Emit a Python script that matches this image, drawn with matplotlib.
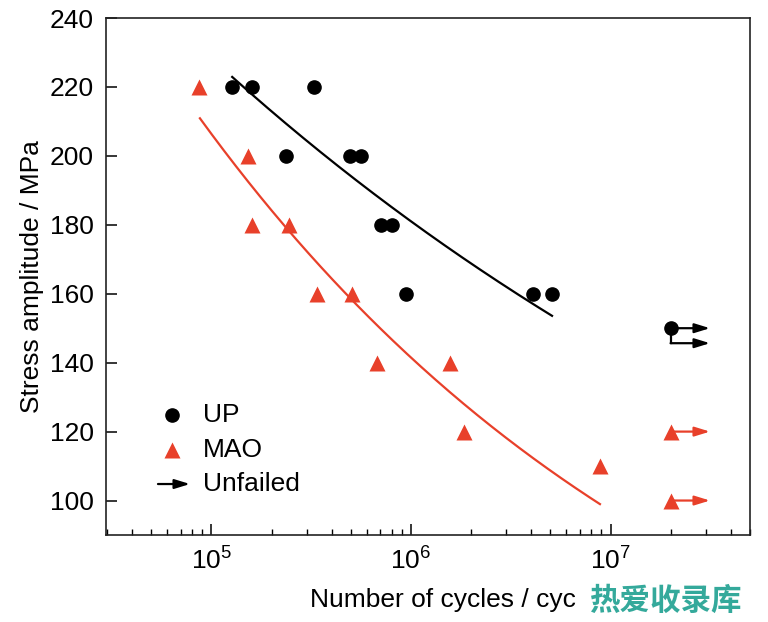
import numpy as np
import matplotlib
matplotlib.use("Agg")
import matplotlib.pyplot as plt
import matplotlib.transforms as mtransforms
from matplotlib.patches import FancyArrowPatch
from matplotlib.ticker import LogLocator, NullFormatter, FixedLocator

plt.rcParams['font.family'] = ['Liberation Sans', 'DejaVu Sans']
plt.rcParams['mathtext.fontset'] = 'custom'
plt.rcParams['mathtext.rm'] = 'Liberation Sans'
plt.rcParams['mathtext.it'] = 'Liberation Sans'

# ---- data ----
up_cycles = [1.27e5, 1.60e5, 3.26e5, 2.36e5, 4.94e5, 5.60e5, 7.08e5, 8.00e5, 9.44e5, 4.09e6, 5.09e6]
up_stress = [220, 220, 220, 200, 200, 200, 180, 180, 160, 160, 160]
mao_cycles = [8.66e4, 1.52e5, 1.60e5, 2.44e5, 3.38e5, 5.06e5, 6.76e5, 1.57e6, 1.84e6, 8.85e6]
mao_stress = [220, 200, 180, 180, 160, 160, 140, 140, 120, 110]
up_unfailed_cycles = [2.0e7]
up_unfailed_stress = [150]
mao_unfailed_cycles = [2.0e7, 2.0e7]
mao_unfailed_stress = [120, 100]
unfailed_arrow_end = 3.15e7

# Basquin fits S = A * N^b
up_fit_b = -0.1009
up_fit_A = 222.9 * (1.27e5) ** (-up_fit_b)
up_fit_range = (1.27e5, 5.09e6)
mao_fit_b = -0.1639
mao_fit_A = 210.9 * (8.75e4) ** (-mao_fit_b)
mao_fit_range = (8.75e4, 8.85e6)

red = '#e8402a'
FS = 19

fig = plt.figure(figsize=(7.68, 6.22), dpi=100)
ax = fig.add_axes([106/768, 1-535/622, 644/768, 517/622])

ax.set_xscale('log')
ax.set_xlim(2.96e4, 5.0e7)
ax.set_ylim(90, 240)

# fit curves
for A, b, rng, c in [(up_fit_A, up_fit_b, up_fit_range, 'black'),
                     (mao_fit_A, mao_fit_b, mao_fit_range, red)]:
    n = np.logspace(np.log10(rng[0]), np.log10(rng[1]), 200)
    ax.plot(n, A * n ** b, color=c, lw=1.6, zorder=2)

ASTYLE = '-|>,head_length=0.65,head_width=0.2'

def arrow(x0, y0, x1, y1, color, transform):
    ap = FancyArrowPatch((x0, y0), (x1, y1), transform=transform,
                         arrowstyle=ASTYLE, mutation_scale=14, color=color, lw=1.6,
                         shrinkA=0, shrinkB=0, zorder=2)
    ax.add_patch(ap)

# unfailed arrows (UP: two run-outs at the same level, drawn as a bracket)
off = mtransforms.offset_copy(ax.transData, fig=fig, y=-15, units='dots')
for x, y in zip(up_unfailed_cycles, up_unfailed_stress):
    arrow(x, y, unfailed_arrow_end, y, 'black', ax.transData)
    arrow(x, y, unfailed_arrow_end, y, 'black', off)
    p0 = ax.transData.transform((x, y))
    ax.plot([p0[0], p0[0]], [p0[1], p0[1] - 15], color='black', lw=1.6,
            transform=None, zorder=2)

for x, y in zip(mao_unfailed_cycles, mao_unfailed_stress):
    arrow(x, y, unfailed_arrow_end, y, red, ax.transData)

# markers
ax.plot(up_cycles + up_unfailed_cycles, up_stress + up_unfailed_stress, 'o',
        color='black', ms=9.5, zorder=3)
ax.plot(mao_cycles + mao_unfailed_cycles, mao_stress + mao_unfailed_stress, '^',
        color=red, ms=11, mec='none', zorder=3)

# legend (manual)
lx, tx = 0.1025, 0.1506
ax.plot([lx], [0.232], 'o', color='black', ms=9.5, transform=ax.transAxes)
ax.plot([lx], [0.1644], '^', color=red, ms=11, mec='none', transform=ax.transAxes)
ax.add_patch(FancyArrowPatch((0.0807, 0.0986), (0.1304, 0.0986), transform=ax.transAxes,
                             arrowstyle=ASTYLE, mutation_scale=14, color='black', lw=1.6,
                             shrinkA=0, shrinkB=0))
for yy, lab in [(0.232, 'UP'), (0.1644, 'MAO'), (0.0986, 'Unfailed')]:
    ax.text(tx, yy, lab, transform=ax.transAxes, fontsize=FS, va='center', ha='left')

# ticks
ax.set_yticks([100, 120, 140, 160, 180, 200, 220, 240])
ax.xaxis.set_major_locator(FixedLocator([1e5, 1e6, 1e7]))
ax.set_xticklabels([r'$10^{5}$', r'$10^{6}$', r'$10^{7}$'])
ax.xaxis.set_minor_locator(LogLocator(base=10, subs=np.arange(2, 10), numticks=20))
ax.xaxis.set_minor_formatter(NullFormatter())
ax.tick_params(axis='both', which='major', direction='in', length=8, width=1.1,
               labelsize=FS, pad=9, top=False, right=False)
ax.tick_params(axis='x', which='minor', direction='in', length=4, width=1.0, top=False)
for s in ax.spines.values():
    s.set_linewidth(1.2)
    s.set_color('#222222')

ax.set_ylabel('Stress amplitude / MPa', fontsize=FS, labelpad=4)
fig.text(442.5/768, 1-600/622, 'Number of cycles / cyc', fontsize=FS, ha='center', va='center')

fig.text(590/768, 1-601/622, '热爱收录库', fontsize=22, fontweight='bold',
         family=['Noto Sans CJK SC', 'DejaVu Sans'], color='#34a99b', ha='left', va='center')

fig.savefig('out.png', dpi=100)
